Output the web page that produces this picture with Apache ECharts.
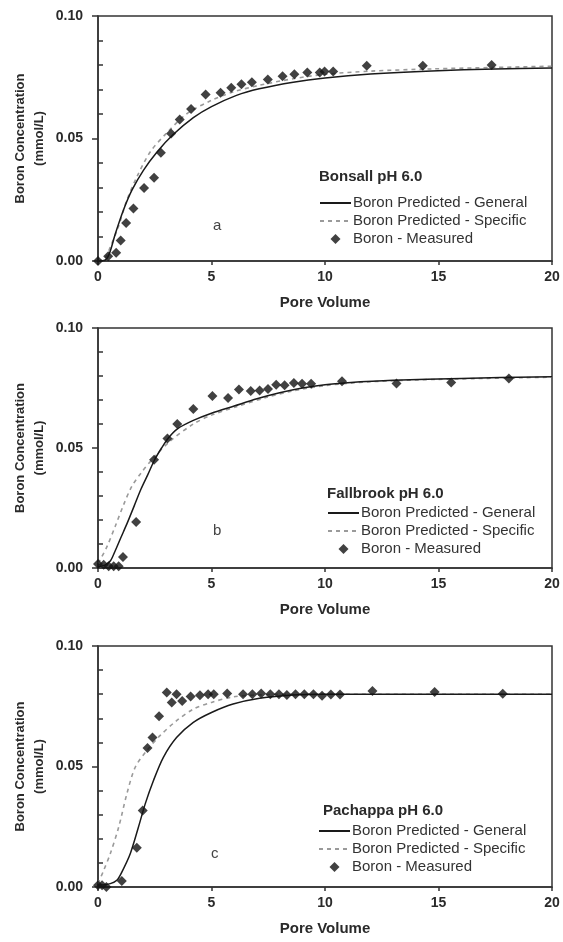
<!DOCTYPE html>
<html>
<head>
<meta charset="utf-8">
<script src="https://cdn.jsdelivr.net/npm/echarts@6/dist/echarts.min.js"></script>
<style>
html, body { margin: 0; padding: 0; background: #fff; }
#chart { width: 563px; height: 942px; }
</style>
</head>
<body>
<div id="chart"></div>
<script>
// panel texts
var panelTitles = ['Bonsall pH 6.0', 'Fallbrook pH 6.0', 'Pachappa pH 6.0'];
var panelLetters = ['a', 'b', 'c'];
var seriesNames = ['Boron Predicted - General', 'Boron Predicted - Specific', 'Boron - Measured'];
var yMinorTicks = [0.01, 0.02, 0.03, 0.04, 0.06, 0.07, 0.08, 0.09];

// a - Bonsall
var bonsallGenX = [0, 0.3, 0.5, 0.76, 1.13, 1.5, 2.0, 2.6, 3.3, 4.2, 5.0, 6.1, 7.1, 8.6, 10, 12, 14.7, 17.5, 20];
var bonsallGenY = [0, 0.0003, 0.003, 0.011, 0.021, 0.029, 0.037, 0.0445, 0.0515, 0.0585, 0.063, 0.0676, 0.0703, 0.073, 0.0747, 0.0763, 0.0776, 0.0784, 0.0788];
var bonsallSpecX = [0, 0.3, 0.54, 0.9, 1.27, 1.71, 2.3, 3.0, 3.9, 5.0, 5.95, 7.1, 8.6, 10, 12, 14.7, 17.5, 20];
var bonsallSpecY = [0, 0.001, 0.0057, 0.014, 0.0248, 0.0343, 0.0445, 0.052, 0.060, 0.0656, 0.069, 0.0717, 0.0744, 0.0762, 0.0775, 0.0784, 0.079, 0.0795];
var bonsallMeasX = [0, 0.45, 0.8, 1.0, 1.24, 1.56, 2.03, 2.47, 2.77, 3.22, 3.6, 4.1, 4.74, 5.4, 5.87, 6.32, 6.78, 7.48, 8.13, 8.65, 9.22, 9.77, 9.98, 10.36, 11.84, 14.31, 17.34];
var bonsallMeasY = [0, 0.0019, 0.0034, 0.0084, 0.0155, 0.0214, 0.0298, 0.034, 0.0442, 0.052, 0.0578, 0.062, 0.068, 0.0687, 0.0707, 0.0721, 0.073, 0.0741, 0.0754, 0.0762, 0.0769, 0.0769, 0.0773, 0.0773, 0.0797, 0.0797, 0.080];

// b - Fallbrook
var fallGenX = [0, 0.3, 0.55, 0.75, 1.0, 1.3, 1.6, 1.9, 2.2, 2.5, 2.8, 3.1, 3.5, 4.2, 5, 6, 7, 8, 9, 10, 11, 13, 16, 20];
var fallGenY = [0.0005, 0.0012, 0.003, 0.007, 0.0125, 0.019, 0.026, 0.033, 0.039, 0.0452, 0.050, 0.0542, 0.058, 0.0615, 0.0645, 0.0675, 0.0705, 0.073, 0.075, 0.0764, 0.0772, 0.0782, 0.079, 0.0797];
var fallSpecX = [0, 0.1, 0.4, 0.76, 1.13, 1.49, 1.93, 2.44, 3.17, 4.2, 5, 6.1, 7.4, 8.6, 10, 12, 15, 20];
var fallSpecY = [0.002, 0.0035, 0.009, 0.0174, 0.0264, 0.034, 0.040, 0.0458, 0.0528, 0.060, 0.0637, 0.0672, 0.071, 0.0738, 0.076, 0.0776, 0.0786, 0.0795];
var fallMeasX = [0, 0.25, 0.47, 0.69, 0.91, 1.1, 1.68, 2.47, 3.06, 3.49, 4.2, 5.04, 5.73, 6.21, 6.73, 7.12, 7.49, 7.85, 8.22, 8.63, 8.99, 9.39, 10.75, 13.15, 15.56, 18.1];
var fallMeasY = [0.0017, 0.0014, 0.0007, 0.0007, 0.0007, 0.0046, 0.0192, 0.0451, 0.054, 0.060, 0.0663, 0.0717, 0.0708, 0.0744, 0.0738, 0.074, 0.0746, 0.0764, 0.0761, 0.0771, 0.0768, 0.0768, 0.0778, 0.0769, 0.0773, 0.079];

// c - Pachappa
var pachGenX = [0, 0.54, 0.83, 1.05, 1.42, 1.78, 2.08, 2.44, 2.88, 3.46, 4.2, 5, 5.95, 7.12, 8.58, 10, 20];
var pachGenY = [0.0007, 0.0014, 0.0028, 0.0062, 0.0138, 0.0248, 0.0345, 0.0441, 0.0538, 0.062, 0.0683, 0.0724, 0.0759, 0.0783, 0.0797, 0.080, 0.080];
var pachSpecX = [0, 0.25, 0.54, 0.91, 1.27, 1.64, 2.15, 2.73, 3.46, 4.2, 5, 5.95, 7.12, 8.5, 20];
var pachSpecY = [0.0014, 0.0069, 0.0138, 0.0248, 0.0386, 0.0497, 0.0566, 0.0628, 0.069, 0.0738, 0.0766, 0.0789, 0.0797, 0.080, 0.080];
var pachMeasX = [0, 0.18, 0.37, 1.05, 1.71, 1.97, 2.18, 2.4, 2.69, 3.03, 3.25, 3.46, 3.71, 4.08, 4.49, 4.85, 5.1, 5.69, 6.39, 6.8, 7.19, 7.59, 7.97, 8.32, 8.7, 9.09, 9.49, 9.87, 10.26, 10.66, 12.09, 14.83, 17.83];
var pachMeasY = [0.0007, 0.0007, 0, 0.0025, 0.0163, 0.0317, 0.0577, 0.062, 0.0709, 0.0807, 0.0766, 0.080, 0.0772, 0.079, 0.0796, 0.080, 0.080, 0.0803, 0.080, 0.080, 0.0803, 0.080, 0.080, 0.0797, 0.080, 0.080, 0.080, 0.0794, 0.0799, 0.0799, 0.0813, 0.0809, 0.0802];

function zip(xs, ys) {
  return xs.map(function (x, i) { return [x, ys[i]]; });
}

var panels = [
  { gen: zip(bonsallGenX, bonsallGenY), spec: zip(bonsallSpecX, bonsallSpecY), meas: zip(bonsallMeasX, bonsallMeasY) },
  { gen: zip(fallGenX, fallGenY), spec: zip(fallSpecX, fallSpecY), meas: zip(fallMeasX, fallMeasY) },
  { gen: zip(pachGenX, pachGenY), spec: zip(pachSpecX, pachSpecY), meas: zip(pachMeasX, pachMeasY) }
];

var FONT = '"Liberation Sans", Arial, sans-serif';
var TXT = '#2a2a2a';
var DIAMOND = 'path://M0,-5L5,0L0,5L-5,0Z';

// layout of the three panels
var grids = [
  { left: 98, top: 16, width: 454, height: 245 },
  { left: 98, top: 328, width: 454, height: 240 },
  { left: 98, top: 646, width: 454, height: 241 }
];
var titlePos = [[319, 169], [327, 486], [323, 803]];
var letterPos = [[213, 218], [213, 523], [211, 846]];
var legendPos = [[319, 194], [327, 504], [318, 822]];

var option = {
  animation: false,
  backgroundColor: '#fff',
  textStyle: { fontFamily: FONT },
  grid: [],
  xAxis: [],
  yAxis: [],
  title: [],
  legend: [],
  series: []
};

panels.forEach(function (p, i) {
  option.grid.push(Object.assign({ show: true, borderColor: '#333', borderWidth: 1.5 }, grids[i]));

  option.xAxis.push({
    gridIndex: i, type: 'value', min: 0, max: 20, interval: 5,
    axisLine: { lineStyle: { color: '#333', width: 1.5 } },
    axisTick: { length: 4, lineStyle: { color: '#333', width: 1.5 } },
    axisLabel: { color: TXT, fontWeight: 'bold', fontSize: 14, fontFamily: FONT, margin: 9 },
    splitLine: { show: false },
    name: 'Pore Volume', nameLocation: 'middle', nameGap: 34, nameMoveOverlap: false,
    nameTextStyle: { color: TXT, fontWeight: 'bold', fontSize: 15, fontFamily: FONT }
  });

  // main y axis: labels and outside ticks
  option.yAxis.push({
    gridIndex: i, type: 'value', position: 'left', min: 0, max: 0.1, interval: 0.05,
    axisLine: { lineStyle: { color: '#333', width: 1.5 } },
    axisTick: { length: 6, lineStyle: { color: '#333', width: 1.5 } },
    axisLabel: {
      color: TXT, fontWeight: 'bold', fontSize: 14, fontFamily: FONT, margin: 15,
      formatter: function (v) { return v.toFixed(2); }
    },
    splitLine: { show: false },
    name: 'Boron Concentration\n(mmol/L)', nameLocation: 'middle', nameGap: 49, nameMoveOverlap: false,
    nameTextStyle: { color: TXT, fontWeight: 'bold', fontSize: 13, lineHeight: 19, fontFamily: FONT }
  });
  // minor inside ticks on the left axis
  option.yAxis.push({
    gridIndex: i, type: 'value', position: 'left', offset: 0, min: 0, max: 0.1, interval: 0.01,
    axisLine: { show: false },
    axisTick: { show: true, inside: true, length: 5, customValues: yMinorTicks, lineStyle: { color: '#333', width: 1.5 } },
    axisLabel: { show: false },
    splitLine: { show: false }
  });

  option.title.push({
    text: panelTitles[i], left: titlePos[i][0], top: titlePos[i][1], padding: 0,
    textStyle: { color: TXT, fontWeight: 'bold', fontSize: 15, fontFamily: FONT }
  });
  option.title.push({
    text: panelLetters[i], left: letterPos[i][0], top: letterPos[i][1], padding: 0,
    textStyle: { color: '#444', fontWeight: 'normal', fontSize: 15, fontFamily: FONT }
  });

  option.legend.push({
    orient: 'vertical', left: legendPos[i][0], top: legendPos[i][1], padding: 0,
    itemWidth: 31, itemHeight: 10, itemGap: 0,
    textStyle: { color: '#333', fontSize: 15, lineHeight: 18, fontFamily: FONT, padding: [0, 0, 0, -3] },
    selectedMode: false,
    data: [
      { name: seriesNames[0], itemStyle: { opacity: 0 } },
      { name: seriesNames[1], itemStyle: { opacity: 0 } },
      { name: seriesNames[2], icon: DIAMOND }
    ]
  });

  option.series.push({
    name: seriesNames[1], type: 'line', xAxisIndex: i, yAxisIndex: 2 * i,
    data: p.spec, symbol: 'none', smooth: 0.3,
    lineStyle: { color: '#9a9a9a', width: 1.6, type: [4, 4] },
    itemStyle: { color: '#9a9a9a' }, z: 2
  });
  option.series.push({
    name: seriesNames[0], type: 'line', xAxisIndex: i, yAxisIndex: 2 * i,
    data: p.gen, symbol: 'none', smooth: 0.3,
    lineStyle: { color: '#1a1a1a', width: 1.5 },
    itemStyle: { color: '#1a1a1a' }, z: 3
  });
  option.series.push({
    name: seriesNames[2], type: 'scatter', xAxisIndex: i, yAxisIndex: 2 * i,
    data: p.meas, symbol: 'diamond', symbolSize: 10,
    itemStyle: { color: '#111' }, z: 4
  });
});

var chart = echarts.init(document.getElementById('chart'), null, { renderer: 'canvas' });
chart.setOption(option);
</script>
</body>
</html>
